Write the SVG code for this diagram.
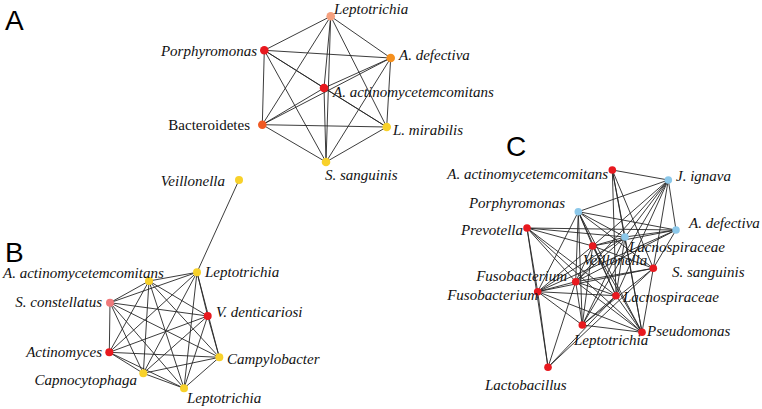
<svg xmlns="http://www.w3.org/2000/svg" width="762" height="409" viewBox="0 0 762 409">
<style>
.e{stroke:#262626;stroke-width:0.9;fill:none}
.n{stroke:none}
.t{font-family:"Liberation Serif","Times New Roman",serif;font-style:italic;font-size:15px;fill:#111}
.u{font-family:"Liberation Serif","Times New Roman",serif;font-size:15px;fill:#111}
.p{font-family:"Liberation Sans",Arial,sans-serif;font-size:28px;fill:#000}
.r{fill:#e8191f}.y{fill:#f8d12a}.b{fill:#8cc8ea}.o{fill:#f5901e}.s{fill:#f5a07e}.q{fill:#f05a24}.k{fill:#ef7a7c}
</style>
<rect width="762" height="409" fill="#fff"/>
<g id="panel-labels">
<text class="p" x="5" y="30">A</text>
<text class="p" x="5" y="262">B</text>
<text class="p" x="506" y="156">C</text>
</g>
<g id="connectors">
<!-- Panel A: complete graph -->
<path class="e" d="M330.7,16.3L264.3,50.3M330.7,16.3L390.7,58M330.7,16.3L324,88M330.7,16.3L262.3,124.7M330.7,16.3L386.7,127M330.7,16.3L326,162
M264.3,50.3L390.7,58M264.3,50.3L324,88M264.3,50.3L262.3,124.7M264.3,50.3L386.7,127M264.3,50.3L326,162
M390.7,58L324,88M390.7,58L262.3,124.7M390.7,58L386.7,127M390.7,58L326,162
M324,88L262.3,124.7M324,88L386.7,127M324,88L326,162
M262.3,124.7L386.7,127M262.3,124.7L326,162
M386.7,127L326,162"/>
<!-- Panel B -->
<path class="e" d="M239,180L197,272.3
M197,272.3L149,281M197,272.3L110,302.7M197,272.3L207.7,316M197,272.3L109.3,352.3M197,272.3L219.3,357.3M197,272.3L143.3,373.3M197,272.3L184,388.3
M149,281L110,302.7M149,281L207.7,316M149,281L109.3,352.3M149,281L219.3,357.3M149,281L143.3,373.3M149,281L184,388.3
M110,302.7L207.7,316M110,302.7L109.3,352.3M110,302.7L219.3,357.3M110,302.7L143.3,373.3M110,302.7L184,388.3
M207.7,316L109.3,352.3M207.7,316L219.3,357.3M207.7,316L143.3,373.3M207.7,316L184,388.3
M109.3,352.3L219.3,357.3M109.3,352.3L143.3,373.3M109.3,352.3L184,388.3
M219.3,357.3L143.3,373.3M219.3,357.3L184,388.3
M143.3,373.3L184,388.3"/>
<!-- Panel C -->
<path class="e" d="M612.3,170L668.3,180M612.3,170L625,237M612.3,170L616,295.7M612.3,170L653.3,268.3M612.3,170L642,332.3
M668.3,180L578.3,211.7M668.3,180L676,230M668.3,180L592.7,246M668.3,180L625,237M668.3,180L575.7,281.7M668.3,180L616,295.7M668.3,180L653.3,268.3M668.3,180L582.3,325
M578.3,211.7L676,230M578.3,211.7L625,237M578.3,211.7L592.7,246M578.3,211.7L575.7,281.7M578.3,211.7L537.7,291.7M578.3,211.7L582.3,325M578.3,211.7L616,295.7M578.3,211.7L642,332.3M578.3,211.7L653.3,268.3
M527,228L676,230M527,228L625,237M527,228L592.7,246M527,228L537.7,291.7M527,228L548,367.3M527,228L575.7,281.7M527,228L616,295.7M527,228L642,332.3
M676,230L592.7,246M676,230L625,237M676,230L537.7,291.7M676,230L575.7,281.7M676,230L653.3,268.3
M625,237L592.7,246M625,237L575.7,281.7M625,237L537.7,291.7M625,237L582.3,325M625,237L616,295.7M625,237L642,332.3
M592.7,246L537.7,291.7M592.7,246L575.7,281.7M592.7,246L582.3,325M592.7,246L616,295.7M592.7,246L653.3,268.3M592.7,246L642,332.3
M653.3,268.3L575.7,281.7M653.3,268.3L537.7,291.7M653.3,268.3L582.3,325M653.3,268.3L548,367.3M653.3,268.3L642,332.3
M575.7,281.7L537.7,291.7M575.7,281.7L616,295.7M575.7,281.7L582.3,325M575.7,281.7L642,332.3M575.7,281.7L548,367.3
M537.7,291.7L616,295.7M537.7,291.7L582.3,325M537.7,291.7L642,332.3M537.7,291.7L548,367.3
M616,295.7L582.3,325M616,295.7L642,332.3M616,295.7L548,367.3
M582.3,325L642,332.3"/>
</g>
<!-- Panel A nodes -->
<g id="a-leptotrichia"><circle class="n s" cx="330.7" cy="16.3" r="4.3"/><text class="t" x="334" y="14">Leptotrichia</text></g>
<g id="a-porphyromonas"><circle class="n r" cx="264.3" cy="50.3" r="4.3"/><text class="t" x="257" y="56" text-anchor="end">Porphyromonas</text></g>
<g id="a-adefectiva"><circle class="n o" cx="390.7" cy="58" r="4.3"/><text class="t" x="399" y="60">A. defectiva</text></g>
<g id="a-aactino"><circle class="n r" cx="324" cy="88" r="4.3"/><text class="t" x="333" y="97">A. actinomycetemcomitans</text></g>
<g id="a-bacteroidetes"><circle class="n q" cx="262.3" cy="124.7" r="4.3"/><text class="u" x="250" y="130" text-anchor="end">Bacteroidetes</text></g>
<g id="a-lmirabilis"><circle class="n y" cx="386.7" cy="127" r="4.3"/><text class="t" x="393" y="135">L. mirabilis</text></g>
<g id="a-ssanguinis"><circle class="n y" cx="326" cy="162" r="4.3"/><text class="t" x="325" y="180">S. sanguinis</text></g>
<!-- Panel B nodes -->
<g id="b-veillonella"><circle class="n y" cx="239" cy="180" r="4"/><text class="t" x="225" y="186" text-anchor="end">Veillonella</text></g>
<g id="b-leptotrichia1"><circle class="n y" cx="197" cy="272.3" r="4"/><text class="t" x="205" y="277">Leptotrichia</text></g>
<g id="b-aactino"><circle class="n y" cx="149" cy="281" r="4"/><text class="t" x="3" y="278">A. actinomycetemcomitans</text></g>
<g id="b-sconstellatus"><circle class="n k" cx="110" cy="302.7" r="4"/><text class="t" x="102" y="307" text-anchor="end">S. constellatus</text></g>
<g id="b-vdenticariosi"><circle class="n r" cx="207.7" cy="316" r="4"/><text class="t" x="216" y="317">V. denticariosi</text></g>
<g id="b-actinomyces"><circle class="n r" cx="109.3" cy="352.3" r="4"/><text class="t" x="102" y="357" text-anchor="end">Actinomyces</text></g>
<g id="b-campylobacter"><circle class="n y" cx="219.3" cy="357.3" r="4"/><text class="t" x="227" y="364">Campylobacter</text></g>
<g id="b-capnocytophaga"><circle class="n y" cx="143.3" cy="373.3" r="4"/><text class="t" x="137" y="385" text-anchor="end">Capnocytophaga</text></g>
<g id="b-leptotrichia2"><circle class="n y" cx="184" cy="388.3" r="4"/><text class="t" x="187" y="403">Leptotrichia</text></g>
<!-- Panel C nodes -->
<g id="c-aactino"><circle class="n r" cx="612.3" cy="170" r="3.8"/><text class="t" x="608" y="179" text-anchor="end">A. actinomycetemcomitans</text></g>
<g id="c-jignava"><circle class="n b" cx="668.3" cy="180" r="3.8"/><text class="t" x="676" y="181">J. ignava</text></g>
<g id="c-porphyromonas"><circle class="n b" cx="578.3" cy="211.7" r="3.8"/><text class="t" x="565" y="208" text-anchor="end">Porphyromonas</text></g>
<g id="c-prevotella"><circle class="n r" cx="527" cy="228" r="3.8"/><text class="t" x="523" y="235" text-anchor="end">Prevotella</text></g>
<g id="c-adefectiva"><circle class="n b" cx="676" cy="230" r="3.8"/><text class="t" x="689" y="228">A. defectiva</text></g>
<g id="c-lacnospiraceae1"><circle class="n b" cx="625" cy="237" r="3.8"/><text class="t" x="629" y="252">Lacnospiraceae</text></g>
<g id="c-veillonella"><circle class="n r" cx="592.7" cy="246" r="3.8"/><text class="t" x="583" y="265">Veillonella</text></g>
<g id="c-ssanguinis"><circle class="n r" cx="653.3" cy="268.3" r="3.8"/><text class="t" x="672" y="277">S. sanguinis</text></g>
<g id="c-fusobacterium1"><circle class="n r" cx="575.7" cy="281.7" r="3.8"/><text class="t" x="567" y="281" text-anchor="end">Fusobacterium</text></g>
<g id="c-fusobacterium2"><circle class="n r" cx="537.7" cy="291.7" r="3.8"/><text class="t" x="538" y="300" text-anchor="end">Fusobacterium</text></g>
<g id="c-lacnospiraceae2"><circle class="n r" cx="616" cy="295.7" r="3.8"/><text class="t" x="623" y="302">Lacnospiraceae</text></g>
<g id="c-leptotrichia"><circle class="n r" cx="582.3" cy="325" r="3.8"/><text class="t" x="574" y="345">Leptotrichia</text></g>
<g id="c-pseudomonas"><circle class="n r" cx="642" cy="332.3" r="3.8"/><text class="t" x="647" y="336">Pseudomonas</text></g>
<g id="c-lactobacillus"><circle class="n r" cx="548" cy="367.3" r="3.8"/><text class="t" x="485" y="390">Lactobacillus</text></g>
</svg>
